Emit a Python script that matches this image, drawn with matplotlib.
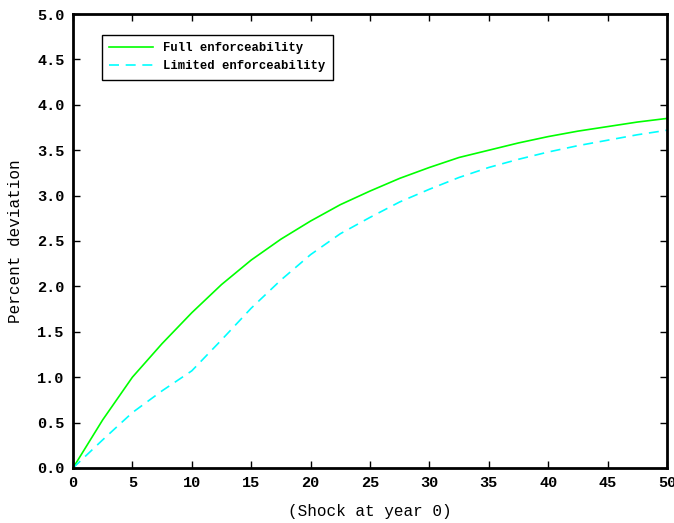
import numpy as np
import matplotlib
matplotlib.use("Agg")
import matplotlib.pyplot as plt

# years after the shock
years = [0, 2.5, 5, 7.5, 10, 12.5, 15, 17.5, 20, 22.5, 25,
         27.5, 30, 32.5, 35, 37.5, 40, 42.5, 45, 47.5, 50]

# percent deviation
full = [0.0, 0.53, 1.0, 1.37, 1.71, 2.02, 2.29, 2.52, 2.72, 2.90, 3.05,
        3.19, 3.31, 3.42, 3.50, 3.58, 3.65, 3.71, 3.76, 3.81, 3.85]
limited = [0.0, 0.31, 0.61, 0.85, 1.07, 1.41, 1.76, 2.07, 2.35, 2.58, 2.76,
           2.93, 3.07, 3.20, 3.31, 3.40, 3.48, 3.55, 3.61, 3.67, 3.72]

plt.rcParams['font.family'] = ['Liberation Mono', 'DejaVu Sans Mono']
plt.rcParams['font.weight'] = 'bold'

fig = plt.figure(figsize=(6.74, 5.23), dpi=100)
ax = fig.add_axes([0.1083, 0.1052, 0.8813, 0.868])

ax.plot(years, full, color='#00ff00', lw=1.2, label='Full enforceability')
ax.plot(years, limited, color='#00ffff', lw=1.2, dashes=(6, 4),
        label='Limited enforceability')

ax.set_xlim(0, 50)
ax.set_ylim(0, 5)
ax.set_xticks(np.arange(0, 51, 5))
ax.set_yticks(np.arange(0, 5.01, 0.5))
ax.set_yticklabels(['%.1f' % v for v in np.arange(0, 5.01, 0.5)])
ax.tick_params(direction='in', top=True, right=True, length=5, width=1,
               labelsize=11, pad=6)
for s in ax.spines.values():
    s.set_linewidth(2)

ax.set_xlabel('(Shock at year 0)', fontsize=11.5, labelpad=10)
ax.set_ylabel('Percent deviation', fontsize=11.5, labelpad=10)

leg = ax.legend(loc='upper left', bbox_to_anchor=(0.049, 0.954),
                borderaxespad=0, fontsize=8.8, fancybox=False,
                handlelength=3.6, framealpha=1, borderpad=0.6)
leg.get_frame().set_edgecolor('black')
leg.get_frame().set_linewidth(1)

fig.savefig('out.png', dpi=100)
